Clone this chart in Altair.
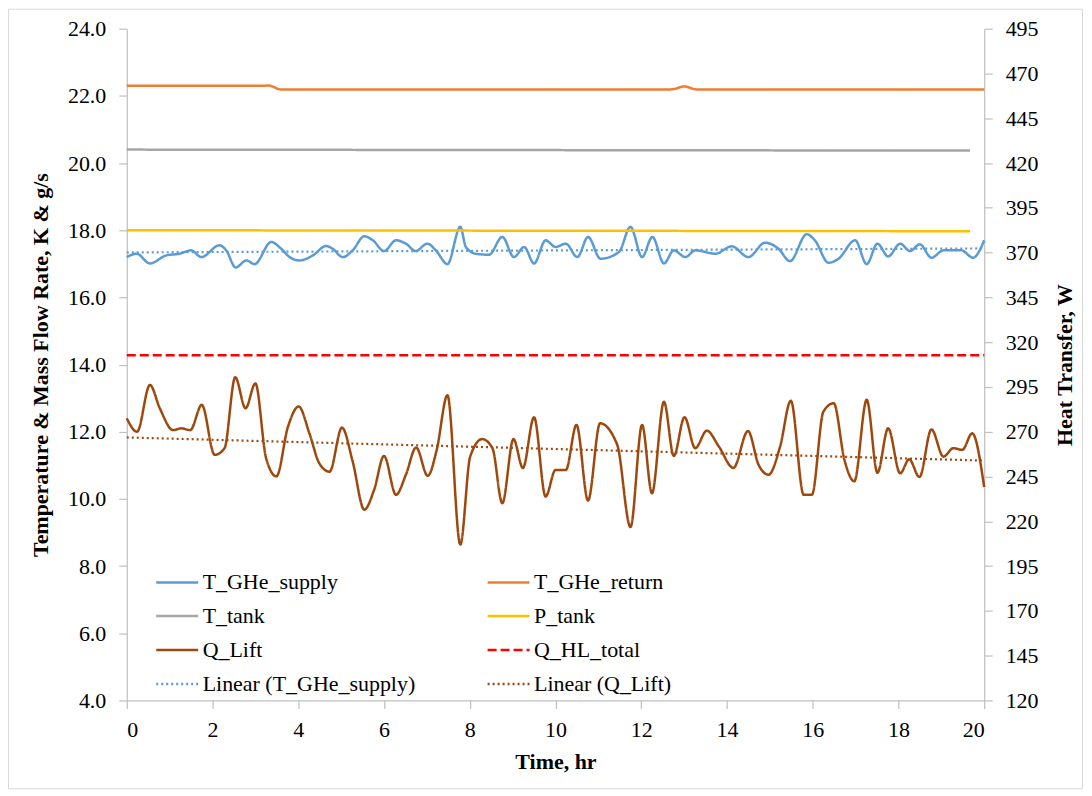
import altair as alt
import pandas as pd

# ---------------- data ----------------
time_supply = [0, 0.23, 0.54, 0.92, 1.23, 1.50, 1.74, 2.16, 2.32, 2.54,
               2.79, 2.98, 3.37, 3.60, 3.80, 4.03, 4.34, 4.65, 4.80, 5.04,
               5.27, 5.54, 5.74, 6.00, 6.28, 6.51, 6.74, 7.01, 7.21, 7.48,
               7.78, 7.91, 8.14, 8.45, 8.76, 9.03, 9.27, 9.50, 9.77, 10.0,
               10.24, 10.51, 10.76, 11.05, 11.48, 11.75, 12.02, 12.26, 12.53, 12.76,
               13.03, 13.26, 13.73, 14.11, 14.50, 14.89, 15.20, 15.47, 15.86, 16.05,
               16.37, 16.60, 16.99, 17.26, 17.51, 17.76, 18.04, 18.27, 18.50, 18.77,
               19.05, 19.47, 19.74, 20.0]
t_ghe_supply = [17.20, 17.30, 17.01, 17.25, 17.30, 17.40, 17.20, 17.55, 17.40, 16.89,
                17.10, 16.99, 17.65, 17.45, 17.20, 17.10, 17.25, 17.53, 17.45, 17.20,
                17.40, 17.82, 17.70, 17.38, 17.70, 17.60, 17.38, 17.60, 17.40, 16.99,
                18.10, 17.50, 17.30, 17.27, 17.80, 17.20, 17.50, 17.01, 17.70, 17.50,
                17.60, 17.20, 17.80, 17.15, 17.35, 18.10, 17.20, 17.80, 17.01, 17.40,
                17.20, 17.40, 17.30, 17.52, 17.20, 17.63, 17.45, 17.08, 17.88, 17.70,
                17.03, 17.15, 17.70, 16.99, 17.60, 17.22, 17.60, 17.38, 17.58, 17.18,
                17.40, 17.40, 17.18, 17.70]

time_return = [0, 3.2, 3.3, 3.6, 12.6, 12.75, 13.0, 13.3, 20]
t_ghe_return = [22.30, 22.30, 22.31, 22.19, 22.19, 22.20, 22.28, 22.19, 22.19]

time_tank = [0, 19.67]
t_tank = [20.40, 20.37]
p_tank = [18.00, 17.97]

time_q = [0, 0.24, 0.54, 0.77, 1.08, 1.27, 1.48, 1.75, 2.05, 2.28,
          2.53, 2.77, 3.00, 3.25, 3.49, 3.76, 4.01, 4.26, 4.49, 4.73,
          5.02, 5.27, 5.54, 5.77, 6.00, 6.28, 6.51, 6.75, 7.02, 7.23,
          7.48, 7.78, 8.01, 8.29, 8.53, 8.76, 9.02, 9.24, 9.50, 9.77,
          10.0, 10.24, 10.49, 10.76, 11.04, 11.44, 11.75, 12.02, 12.25, 12.53,
          12.76, 13.01, 13.26, 13.53, 13.81, 14.15, 14.49, 14.74, 14.97, 15.24,
          15.49, 15.79, 15.98, 16.25, 16.49, 16.74, 16.97, 17.26, 17.51, 17.76,
          18.04, 18.25, 18.49, 18.77, 19.05, 19.28, 19.49, 19.72, 20.0]
q_lift = [277.5, 270.0, 296.1, 283.1, 270.9, 271.9, 270.9, 285.0, 257.1, 260.8,
          300.4, 283.1, 297.0, 255.2, 245.1, 272.8, 284.1, 269.1, 252.4, 247.7,
          272.3, 253.3, 226.5, 237.6, 256.5, 234.8, 246.0, 261.2, 245.4, 259.9,
          290.4, 207.0, 256.1, 265.9, 260.8, 230.1, 265.9, 249.8, 278.1, 233.8,
          248.6, 248.6, 273.8, 231.6, 274.7, 262.7, 216.8, 273.8, 235.7, 286.7,
          256.5, 278.1, 260.8, 270.6, 261.8, 249.8, 270.4, 251.4, 246.0, 261.8,
          287.3, 234.8, 234.8, 281.3, 285.9, 254.3, 242.3, 287.8, 247.1, 271.9,
          246.8, 254.6, 244.7, 271.3, 256.1, 260.8, 259.9, 269.1, 239.1]

time_hl = [0, 20]
q_hl_total = [312.7, 312.7]

# legend fills column by column: left column first, then right column
series_names = ["T_GHe_supply", "T_tank", "Q_Lift", "Linear (T_GHe_supply)",
                "T_GHe_return", "P_tank", "Q_HL_total", "Linear (Q_Lift)"]
series_colors = ["#5B9BD5", "#A5A5A5", "#9E480E", "#5B9BD5",
                 "#ED7D31", "#FFC000", "#FF0000", "#9E480E"]
series_dash = [[1, 0], [1, 0], [1, 0], [2, 3], [1, 0], [1, 0], [9, 4], [2, 3]]

x_ticks = list(range(0, 21, 2))
left_ticks = list(range(4, 25, 2))
right_ticks = list(range(120, 496, 25))


def long(name, ts, vs):
    return pd.DataFrame({"t": ts, "v": vs, "series": name})


left_df = pd.concat([
    long("T_GHe_supply", time_supply, t_ghe_supply),
    long("T_GHe_return", time_return, t_ghe_return),
    long("T_tank", time_tank, t_tank),
    long("P_tank", time_tank, p_tank),
], ignore_index=True)
right_df = pd.concat([
    long("Q_Lift", time_q, q_lift),
    long("Q_HL_total", time_hl, q_hl_total),
], ignore_index=True)
supply_df = long("T_GHe_supply", time_supply, t_ghe_supply)
q_df = long("Q_Lift", time_q, q_lift)

FONT = "'Liberation Serif', 'Times New Roman', serif"
LABEL_SIZE = 22

x_enc = alt.X("t:Q", scale=alt.Scale(domain=[0, 20], nice=False, zero=False),
              axis=alt.Axis(values=x_ticks, title="Time, hr", labelPadding=11,
                            titlePadding=11, labelFont=FONT, labelFontSize=LABEL_SIZE))

legend_props = dict(title=None, orient="none", legendX=28, legendY=532, columns=2,
                    symbolType="stroke", symbolSize=1764, symbolStrokeWidth=2.5,
                    labelFont=FONT, labelFontSize=22, labelColor="black",
                    columnPadding=66, rowPadding=0, labelOffset=3, labelLimit=400)

color_enc = alt.Color("series:N", scale=alt.Scale(domain=series_names, range=series_colors),
                      legend=alt.Legend(**legend_props))
dash_enc = alt.StrokeDash("series:N", scale=alt.Scale(domain=series_names, range=series_dash),
                          legend=alt.Legend(**legend_props))

y_left = alt.Y("v:Q", scale=alt.Scale(domain=[4, 24], nice=False, zero=False),
               axis=alt.Axis(values=left_ticks, format=".1f", orient="left",
                             labelFont=FONT, labelFontSize=LABEL_SIZE,
                             title="Temperature & Mass Flow Rate, K & g/s", titlePadding=15))
y_right = alt.Y("v:Q", scale=alt.Scale(domain=[120, 495], nice=False, zero=False),
                axis=alt.Axis(values=right_ticks, orient="right", title="Heat Transfer, W",
                              labelFont=FONT, labelFontSize=LABEL_SIZE,
                              titleAngle=270, titlePadding=38))

border = alt.Chart(alt.Data(values=[{"a": 1}])).mark_rect(
    filled=False, stroke="#d9d9d9", strokeWidth=1
).encode(x=alt.value(-118.5), x2=alt.value(957.5), y=alt.value(-19.5), y2=alt.value(761.5))

left_lines = alt.Chart(left_df).mark_line(interpolate="monotone", strokeWidth=2.5).encode(
    x=x_enc, y=y_left, color=color_enc, strokeDash=dash_enc)

supply_trend = alt.Chart(supply_df).transform_regression(
    "t", "v", extent=[0, 20]
).transform_calculate(series="'Linear (T_GHe_supply)'").mark_line(strokeWidth=2.2).encode(
    x=x_enc, y=y_left, color=color_enc, strokeDash=dash_enc)

right_lines = alt.Chart(right_df).mark_line(interpolate="monotone", strokeWidth=2.5).encode(
    x=x_enc, y=y_right, color=color_enc, strokeDash=dash_enc)

q_trend = alt.Chart(q_df).transform_regression(
    "t", "v", extent=[0, 20]
).transform_calculate(series="'Linear (Q_Lift)'").mark_line(strokeWidth=2.2).encode(
    x=x_enc, y=y_right, color=color_enc, strokeDash=dash_enc)

left_group = alt.layer(border, left_lines, supply_trend)
right_group = alt.layer(right_lines, q_trend)

chart = alt.layer(left_group, right_group).resolve_scale(y="independent").properties(
    width=859, height=673,
    padding={"left": 119, "top": 20, "right": 100, "bottom": 89},
    autosize=alt.AutoSizeParams(type="none"),
    background="white",
).configure_view(stroke="transparent").configure_axis(
    labelFont=FONT, titleFont=FONT, labelFontSize=LABEL_SIZE, titleFontSize=22,
    titleFontWeight="bold", labelColor="black", titleColor="black",
    domainColor="#bfbfbf", tickColor="#bfbfbf", tickSize=8, labelPadding=13,
    grid=False, domainWidth=1.2, tickWidth=1.2,
)

chart.save("out.html", embed_options={"renderer": "svg", "actions": False})
